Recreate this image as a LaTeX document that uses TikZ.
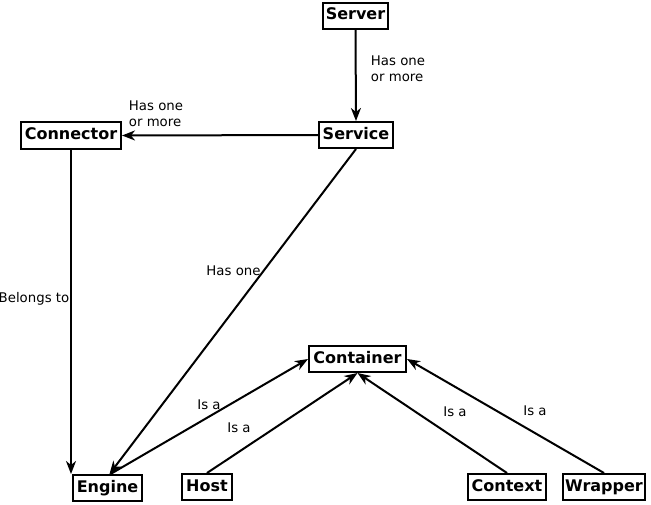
\documentclass[tikz,border=0pt]{standalone}
\usepackage{fontspec}
\setmainfont{DejaVu Sans}
\usetikzlibrary{arrows.meta}
\begin{document}
\begin{tikzpicture}[x=1pt,y=-1pt,
  box/.style={draw,line width=2pt,inner xsep=0pt,inner ysep=0pt,text height=12pt,text depth=3.5pt,minimum height=26pt,font=\fontsize{16}{19}\selectfont\bfseries},
  lbl/.style={inner sep=0pt,align=left,font=\fontsize{13.3}{16}\selectfont},
  arr/.style={line width=2pt,-{Stealth[length=13pt,width=10pt,inset=4pt]}}]
\useasboundingbox (0,0) rectangle (651,504);
\node[box,minimum width=65pt] (Server) at (355.5,15.5) {Server};
\node[box,minimum width=74pt] (Service) at (356,135) {Service};
\node[box,minimum width=100pt,minimum height=27pt] (Connector) at (71,135.5) {Connector};
\node[box,minimum width=97pt] (Container) at (357.5,359) {Container};
\node[box,minimum width=69pt] (Engine) at (107.5,488) {Engine};
\node[box,minimum width=50pt] (Host) at (207,487) {Host};
\node[box,minimum width=78pt] (Context) at (507,487) {Context};
\node[box,minimum width=82pt] (Wrapper) at (604,487) {Wrapper};

\draw[arr] (Server.south) -- (Service.north);
\draw[arr] (Service.west) -- (Connector.east);
\draw[arr] (Connector.south) -- (Connector.south |- Engine.north);
\draw[arr] (Service.south) -- ([xshift=2pt]Engine.north);
\draw[arr] ([xshift=3pt]Engine.north) -- (Container.west);
\draw[arr] (Host.north) -- (Container.south);
\draw[arr] (Context.north) -- (Container.south);
\draw[arr] (Wrapper.north) -- (Container.east);

\node[lbl] (l1) at (398,69) {Has one\\or more};
\node[lbl] (l2) at (156,114) {Has one\\or more};
\node[lbl] (l3) at (34,299) {Belongs to};
\node[lbl] (l4) at (233.5,271) {Has one};
\node[lbl] (l5) at (209,405) {Is a};
\node[lbl] (l6) at (239,428) {Is a};
\node[lbl] (l7) at (455,412) {Is a};
\node[lbl] (l8) at (535,411) {Is a};
\end{tikzpicture}
\end{document}
